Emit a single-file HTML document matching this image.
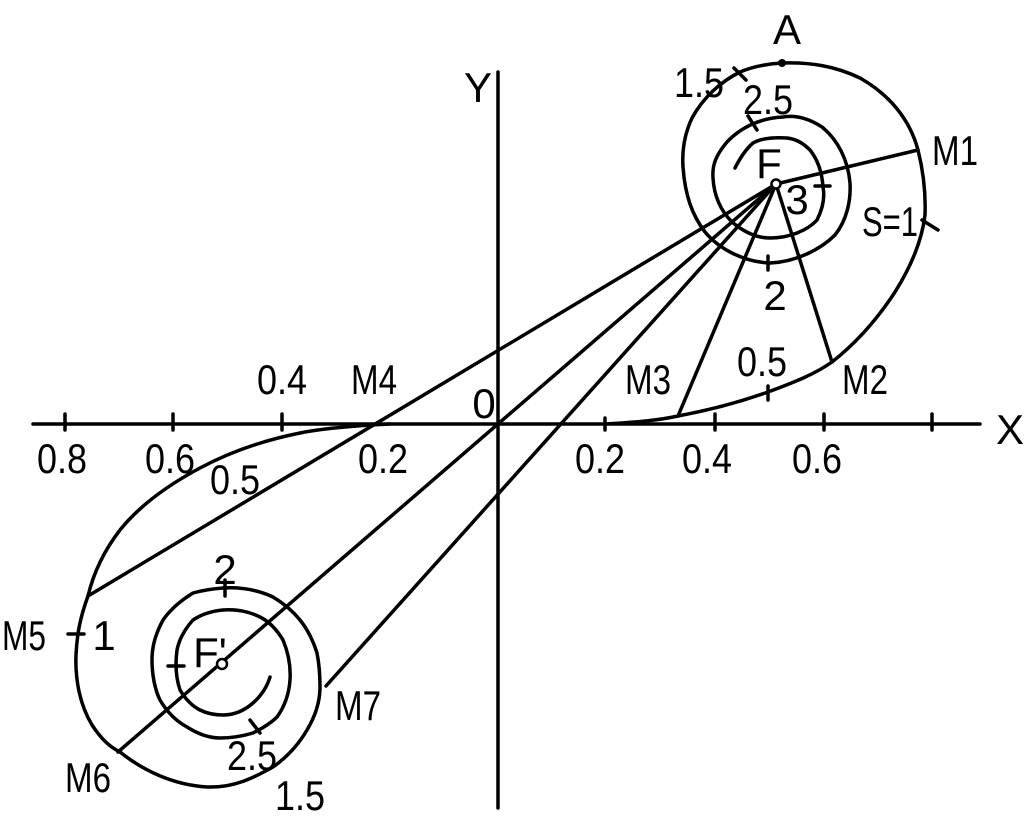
<!DOCTYPE html>
<html><head><meta charset="utf-8"><style>
html,body{margin:0;padding:0;background:#fff;}
svg{display:block;}
text{font-family:"Liberation Sans",sans-serif;font-size:42px;fill:#000;text-anchor:middle;}
</style></head><body>
<svg width="1024" height="820" viewBox="0 0 1024 820" xmlns="http://www.w3.org/2000/svg">
<g fill="none" stroke="#000" stroke-width="3.5" stroke-linejoin="round" stroke-linecap="round">
<line x1="33" y1="424" x2="980" y2="424"/>
<line x1="498" y1="72" x2="498" y2="808"/>
<path d="M65 414V430 M173 414V430 M282 414V430 M605 418V430 M715 414V430 M824 414V430 M932 414V430"/>
<line x1="776" y1="184" x2="918" y2="150"/>
<line x1="776" y1="184" x2="832" y2="362"/>
<line x1="776" y1="184" x2="678" y2="416"/>
<line x1="776" y1="184" x2="88" y2="596"/>
<line x1="776" y1="184" x2="118" y2="752"/>
<line x1="776" y1="184" x2="326" y2="686"/>
<path d="M605 424 C640 422 660 420 678 416 C710 410 740 402 768 392 C795 382 815 374 832 362 C860 340 880 315 895 292 C912 265 922 240 925 215 C926 190 923 170 918 150 C910 120 890 95 860 78 C835 66 810 62 782 63 C765 64 752 67 740 72 C720 82 703 98 692 118 C684 135 682 152 683 167 C685 195 692 215 705 232 C720 250 745 262 770 263 C795 262 820 250 835 235 C847 220 851 200 850 183 C848 160 838 140 822 127 C808 118 795 115 783 117 C760 118 740 128 727 142 C716 155 712 165 713 178 C714 195 720 210 732 222 C745 233 757 238 770 238 C790 238 808 230 817 220 C823 208 825 197 823 187 C822 172 818 160 810 150 C802 142 795 139 787 138 C770 137 760 139 753 143 C745 150 740 158 735 168"/>
<path d="M390 424 C350 426 320 429 300 433 C265 440 230 452 200 468 C170 484 140 505 120 530 C103 552 93 575 88 596 C80 618 77 634 76 655 C75 680 80 705 92 725 C102 740 110 747 120 752 C145 772 175 785 207 787 C235 788 255 777 273 767 C290 755 300 742 307 730 C316 715 320 700 320 687 C320 672 319 663 317 653 C313 640 308 630 300 620 C292 610 283 603 273 597 C258 590 240 587 223 588 C210 589 200 591 193 593 C180 601 170 610 163 620 C155 635 152 647 152 660 C152 675 155 690 160 700 C167 712 176 721 187 727 C198 734 209 738 220 738 C232 738 243 736 253 733 C263 728 271 723 277 717 C285 706 289 694 290 680 C291 665 288 652 283 640 C277 630 270 622 260 617 C250 612 237 609 223 610 C212 611 202 614 193 620 C184 630 179 640 177 650 C175 665 176 678 180 690 C186 700 192 706 200 710 C208 714 215 715 223 715 C235 715 245 710 253 703 C262 695 267 687 270 677"/>
<path d="M734 68 L746 80 M748 116 L757 130 M815 186 H830 M922 220 L938 230 M768 256 V270 M768 386 V400 M225 580 V596 M68 634 H84 M168 666 H184 M250 720 L260 733"/>
</g>
<circle cx="776" cy="184" r="4.5" fill="#fff" stroke="#000" stroke-width="2.5"/>
<circle cx="222" cy="664" r="5" fill="#fff" stroke="#000" stroke-width="2.5"/>
<circle cx="782" cy="63" r="4" fill="#000"/>
<g>
<text x="787" y="44">A</text>
<text x="699" y="97" textLength="50" lengthAdjust="spacingAndGlyphs">1.5</text>
<text x="768" y="114" textLength="50" lengthAdjust="spacingAndGlyphs">2.5</text>
<text x="955" y="165" textLength="46" lengthAdjust="spacingAndGlyphs">M1</text>
<text x="769" y="178">F</text>
<text x="797" y="214">3</text>
<text x="890" y="236" textLength="56" lengthAdjust="spacingAndGlyphs">S=1</text>
<text x="775" y="310">2</text>
<text x="762" y="376" textLength="50" lengthAdjust="spacingAndGlyphs">0.5</text>
<text x="865" y="394" textLength="46" lengthAdjust="spacingAndGlyphs">M2</text>
<text x="648" y="394" textLength="46" lengthAdjust="spacingAndGlyphs">M3</text>
<text x="374" y="394" textLength="46" lengthAdjust="spacingAndGlyphs">M4</text>
<text x="282" y="394" textLength="50" lengthAdjust="spacingAndGlyphs">0.4</text>
<text x="484" y="418">0</text>
<text x="478" y="102">Y</text>
<text x="1010" y="444">X</text>
<text x="62" y="473" textLength="50" lengthAdjust="spacingAndGlyphs">0.8</text>
<text x="170" y="473" textLength="50" lengthAdjust="spacingAndGlyphs">0.6</text>
<text x="383" y="473" textLength="50" lengthAdjust="spacingAndGlyphs">0.2</text>
<text x="235" y="494" textLength="50" lengthAdjust="spacingAndGlyphs">0.5</text>
<text x="600" y="473" textLength="50" lengthAdjust="spacingAndGlyphs">0.2</text>
<text x="707" y="473" textLength="50" lengthAdjust="spacingAndGlyphs">0.4</text>
<text x="817" y="473" textLength="50" lengthAdjust="spacingAndGlyphs">0.6</text>
<text x="225" y="584">2</text>
<text x="24" y="650" textLength="44" lengthAdjust="spacingAndGlyphs">M5</text>
<text x="104" y="650">1</text>
<text x="210" y="667">F'</text>
<text x="358" y="720" textLength="46" lengthAdjust="spacingAndGlyphs">M7</text>
<text x="88" y="792" textLength="46" lengthAdjust="spacingAndGlyphs">M6</text>
<text x="252" y="770" textLength="50" lengthAdjust="spacingAndGlyphs">2.5</text>
<text x="300" y="810" textLength="50" lengthAdjust="spacingAndGlyphs">1.5</text>
</g>
</svg>
</body></html>
